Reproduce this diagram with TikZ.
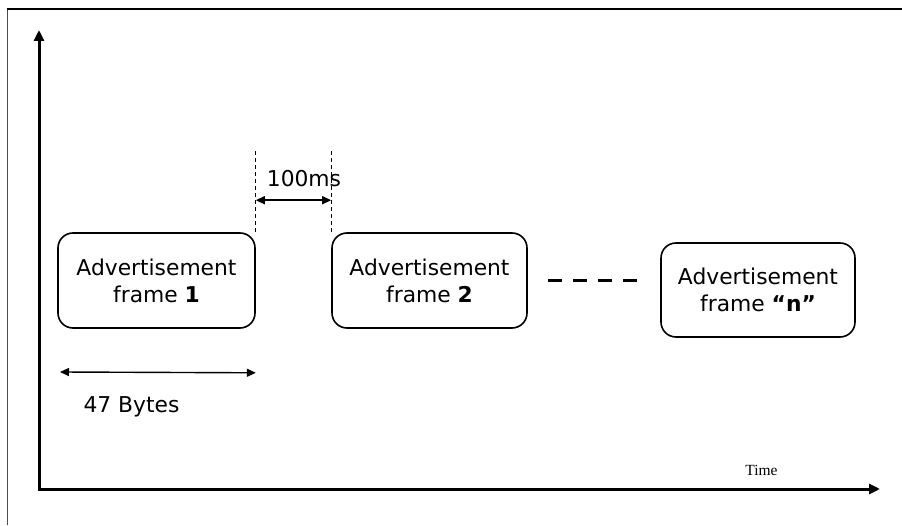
\documentclass[tikz,border=0pt]{standalone}
\usepackage{fontspec}
\setmainfont{DejaVu Sans}
\newfontfamily\timefont{Liberation Serif}
\usepackage{tikz}
\usetikzlibrary{positioning, arrows.meta, calc}

\begin{document}
\begin{tikzpicture}[
x=1pt, y=1pt,
    frame/.style={draw, rectangle, line width=1.6pt, rounded corners=15pt, minimum width=197pt, minimum height=95pt, align=center, inner sep=0pt, font=\fontsize{21.8}{27}\selectfont},
    axis/.style={line width=3pt, {Triangle[length=11pt,width=10pt]}-{Triangle[length=11pt,width=10pt]}},
    dimline/.style={line width=1.4pt, {Triangle[length=9pt,width=8pt]}-{Triangle[length=9pt,width=8pt]}},
    guide/.style={draw, line width=0.8pt, dash pattern=on 4pt off 3pt},
    label/.style={font=\fontsize{21.8}{26}\selectfont, anchor=base, inner sep=0pt}
]
    \useasboundingbox (0,0) rectangle (902,525);

    % --- Outer border ---
    \draw[line width=1pt, black!70] (7,0) -- (7,516);
    \draw[line width=2pt] (6.5,516) -- (902,516);

    % --- Axes ---
    \coordinate (origin) at (39,36);
    \coordinate (ytip) at (39,495);
    \coordinate (xtip) at (880,36);
    \draw[axis] (ytip) |- (xtip);
    \node[font=\timefont\fontsize{15.5}{18}\selectfont, anchor=base, inner sep=0pt] (time) at (761.5,50) {Time};

    % --- Advertisement frames ---
    \node[frame] (f1) at (156.5,244.5) {Advertisement\\frame \textbf{1}};
    \node[frame, minimum width=195pt] (f2) at (429.5,244.5) {Advertisement\\frame \textbf{2}};
    \node[frame, minimum width=194pt, minimum height=94pt] (fn) at (758,235) {Advertisement\\frame \textbf{``n''}};

    % --- Dashes between frames ---
    \coordinate (dstart) at (548,244);
    \coordinate (dend) at (637,244);
    \draw[line width=3pt, dash pattern=on 14pt off 11pt] (dstart) -- (dend);

    % --- Interval 100ms ---
    \coordinate (g1) at ($(f1.north east)+(0,81)$);
    \coordinate (g2) at ($(f2.north west)+(0,81)$);
    \draw[guide] (g1) -- (f1.north east);
    \draw[guide] (g2) -- (f2.north west);
    \coordinate (a1) at ($(f1.north east)+(0,32)$);
    \coordinate (a2) at ($(f2.north west)+(0,32)$);
    \draw[dimline] (a1) -- (a2);
    \node[label] (gap) at (304,338) {100ms};

    % --- Frame length 47 Bytes ---
    \coordinate (b1) at (60,153);
    \coordinate (b2) at ($(f1.south east)+(0,-44)$);
    \draw[dimline] (b1) -- (b2);
    \node[label] (bytes) at (131.5,113) {47 Bytes};

\end{tikzpicture}
\end{document}
